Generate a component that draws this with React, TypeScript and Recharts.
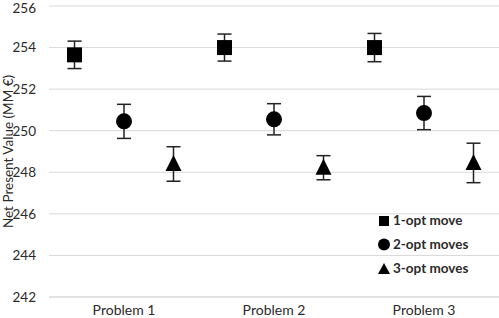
import { ComposedChart, Scatter, ErrorBar, XAxis, YAxis, CartesianGrid, Legend } from 'recharts'

// NPV per problem for each neighbourhood move (mean and +/- deviation)
const problems = ['Problem 1', 'Problem 2', 'Problem 3']
const moveNames = ['1-opt move', '2-opt moves', '3-opt moves']
const oneOptMean = [253.65, 254.0, 254.0]
const oneOptErr = [0.66, 0.65, 0.68]
const twoOptMean = [250.45, 250.55, 250.85]
const twoOptErr = [0.82, 0.75, 0.8]
const threeOptMean = [248.4, 248.22, 248.45]
const threeOptErr = [0.83, 0.58, 0.95]
const yTicks = [242, 244, 246, 248, 250, 252, 254, 256]

const textColor = '#2b2b2b'
const gridColor = '#d9d9d9'
const font = 'Lato, "Open Sans", sans-serif'

// horizontal placement of each series inside a category slot
const slotOffset = [-0.33, 0, 0.33]

const toPoints = (mean: number[], err: number[], k: number) =>
  problems.map((_, i) => ({ x: i + 1 + slotOffset[k], y: mean[i], err: err[i] }))

const oneOpt = toPoints(oneOptMean, oneOptErr, 0)
const twoOpt = toPoints(twoOptMean, twoOptErr, 1)
const threeOpt = toPoints(threeOptMean, threeOptErr, 2)

const SquareDot = (props: any) => {
  const { cx, cy } = props
  return <rect x={cx - 7.5} y={cy - 7.5} width={15} height={15} fill="#000" />
}

const CircleDot = (props: any) => {
  const { cx, cy } = props
  return <circle cx={cx} cy={cy} r={8} fill="#000" />
}

const TriangleDot = (props: any) => {
  const { cx, cy } = props
  return <polygon points={`${cx},${cy - 9} ${cx + 8},${cy + 7} ${cx - 8},${cy + 7}`} fill="#000" />
}

const legendIcon = (i: number) => {
  if (i === 0) return <rect x={2} y={3} width={10} height={10} fill="#000" />
  if (i === 1) return <circle cx={7} cy={7.5} r={6} fill="#000" />
  return <polygon points="7,2 13,13 1,13" fill="#000" />
}

const renderLegend = () => (
  <div style={{ fontFamily: font, fontWeight: 700, fontSize: 13.5, color: textColor }}>
    {moveNames.map((name, i) => (
      <div key={name} style={{ display: 'flex', alignItems: 'center', height: 24 }}>
        <svg width={14} height={15} style={{ marginRight: 2 }}>
          {legendIcon(i)}
        </svg>
        <span>{name}</span>
      </div>
    ))}
  </div>
)

export default function App() {
  return (
    <div style={{ position: 'fixed', top: 0, left: 0, background: '#fff' }}>
      <ComposedChart width={499} height={318} margin={{ top: 6, right: 0, bottom: 0, left: 0 }}>
        <CartesianGrid vertical={false} stroke={gridColor} />
        <XAxis
          type="number"
          dataKey="x"
          domain={[0.5, 3.5]}
          ticks={[1, 2, 3]}
          tickFormatter={(v: number) => problems[v - 1]}
          axisLine={{ stroke: gridColor }}
          tickLine={false}
          height={21}
          tickMargin={2}
          tick={{ fill: textColor, fontSize: 14, fontFamily: font }}
        />
        <YAxis
          type="number"
          dataKey="y"
          domain={[242, 256]}
          ticks={yTicks}
          axisLine={false}
          tickLine={false}
          width={49}
          tickMargin={7}
          tick={{ fill: textColor, fontSize: 13.5, fontFamily: font }}
          label={{
            value: 'Net Present Value (MM €)',
            angle: -90,
            position: 'center',
            dx: -16.5,
            style: { fill: textColor, fontSize: 13.5, fontFamily: font, textAnchor: 'middle' },
          }}
        />
        <Legend
          layout="vertical"
          align="center"
          verticalAlign="middle"
          content={renderLegend}
          wrapperStyle={{ position: 'absolute', left: 377, top: 208, width: 120 }}
        />
        <Scatter name={moveNames[0]} data={oneOpt} dataKey="y" shape={SquareDot} isAnimationActive={false}>
          <ErrorBar dataKey="err" direction="y" width={7} stroke="#222" strokeWidth={1.5} />
        </Scatter>
        <Scatter name={moveNames[1]} data={twoOpt} dataKey="y" shape={CircleDot} isAnimationActive={false}>
          <ErrorBar dataKey="err" direction="y" width={7} stroke="#222" strokeWidth={1.5} />
        </Scatter>
        <Scatter name={moveNames[2]} data={threeOpt} dataKey="y" shape={TriangleDot} isAnimationActive={false}>
          <ErrorBar dataKey="err" direction="y" width={7} stroke="#222" strokeWidth={1.5} />
        </Scatter>
      </ComposedChart>
    </div>
  )
}
